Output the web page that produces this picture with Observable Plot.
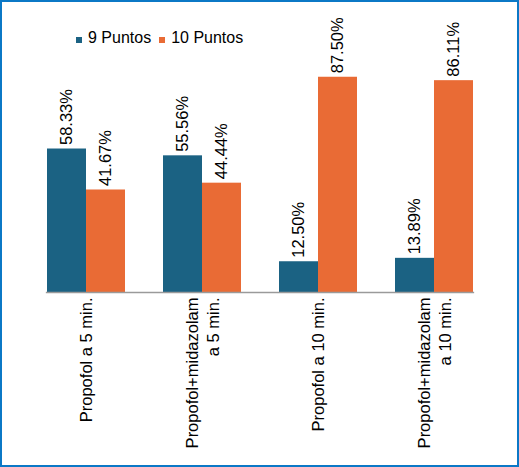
<!DOCTYPE html>
<html>
<head>
<meta charset="utf-8">
<script src="https://cdn.jsdelivr.net/npm/d3@7"></script>
<script src="https://cdn.jsdelivr.net/npm/@observablehq/plot@0.6"></script>
<style>
  html, body { margin: 0; padding: 0; background: #fff; }
  #wrap {
    position: relative; width: 519px; height: 467px; box-sizing: border-box;
    border: 2px solid #0b78c6; background: #fff; overflow: hidden;
    font-family: "Liberation Sans", Arial, sans-serif;
  }
  #legend {
    position: absolute; left: 74px; top: 27px; display: flex; align-items: center;
    font-size: 16px; line-height: 18px; color: #000; z-index: 2;
  }
  #legend .item { display: flex; align-items: center; margin-right: 8px; }
  #legend .sw { width: 6px; height: 6px; margin-right: 6px; position: relative; top: 2px; }
  #chart { position: absolute; left: 0; top: 0; }
</style>
</head>
<body>
<div id="wrap">
  <div id="legend"></div>
  <div id="chart"></div>
</div>
<script>
const categories = [
  "Propofol a 5 min.",
  "Propofol+midazolam\na 5 min.",
  "Propofol a 10 min.",
  "Propofol+midazolam\na 10 min."
];
const series = ["9 Puntos", "10 Puntos"];
const puntos9 = [58.33, 55.56, 12.50, 13.89];
const puntos10 = [41.67, 44.44, 87.50, 86.11];
const colors = ["#1b6283", "#e96b35"];

const data = categories.flatMap((c, i) => [
  {cat: c, serie: series[0], value: puntos9[i]},
  {cat: c, serie: series[1], value: puntos10[i]}
]);

const legend = document.getElementById("legend");
series.forEach((s, i) => {
  const item = document.createElement("div");
  item.className = "item";
  const sw = document.createElement("span");
  sw.className = "sw";
  sw.style.background = colors[i];
  const t = document.createElement("span");
  t.textContent = s;
  item.appendChild(sw);
  item.appendChild(t);
  legend.appendChild(item);
});

const chart = Plot.plot({
  width: 515,
  height: 463,
  marginLeft: 24,
  marginRight: 24,
  marginTop: 44,
  marginBottom: 173,
  style: {fontFamily: "'Liberation Sans', Arial, sans-serif", fontSize: "16.5px", color: "#000", background: "transparent"},
  fx: {domain: categories, paddingInner: 0.32, paddingOuter: 0.16, label: null},
  x: {domain: series, padding: 0, axis: null},
  y: {domain: [0, 100], axis: null},
  color: {domain: series, range: colors},
  marks: [
    Plot.barY(data, {fx: "cat", x: "serie", y: "value", fill: "serie"}),
    Plot.text(data, {
      fx: "cat", x: "serie", y: "value",
      text: d => d.value.toFixed(2) + "%",
      rotate: -90, textAnchor: "start", dy: -4,
      fontSize: 16.5, fill: "#000"
    }),
    Plot.frame({anchor: "bottom", facet: "super", stroke: "#9a9a9a", strokeWidth: 1.3}),
    Plot.axisFx({
      anchor: "bottom", tickRotate: -90, tickSize: 0, tickPadding: 5,
      fontSize: 16.5, lineHeight: 1.22, label: null
    })
  ]
});
document.getElementById("chart").appendChild(chart);
</script>
</body>
</html>
